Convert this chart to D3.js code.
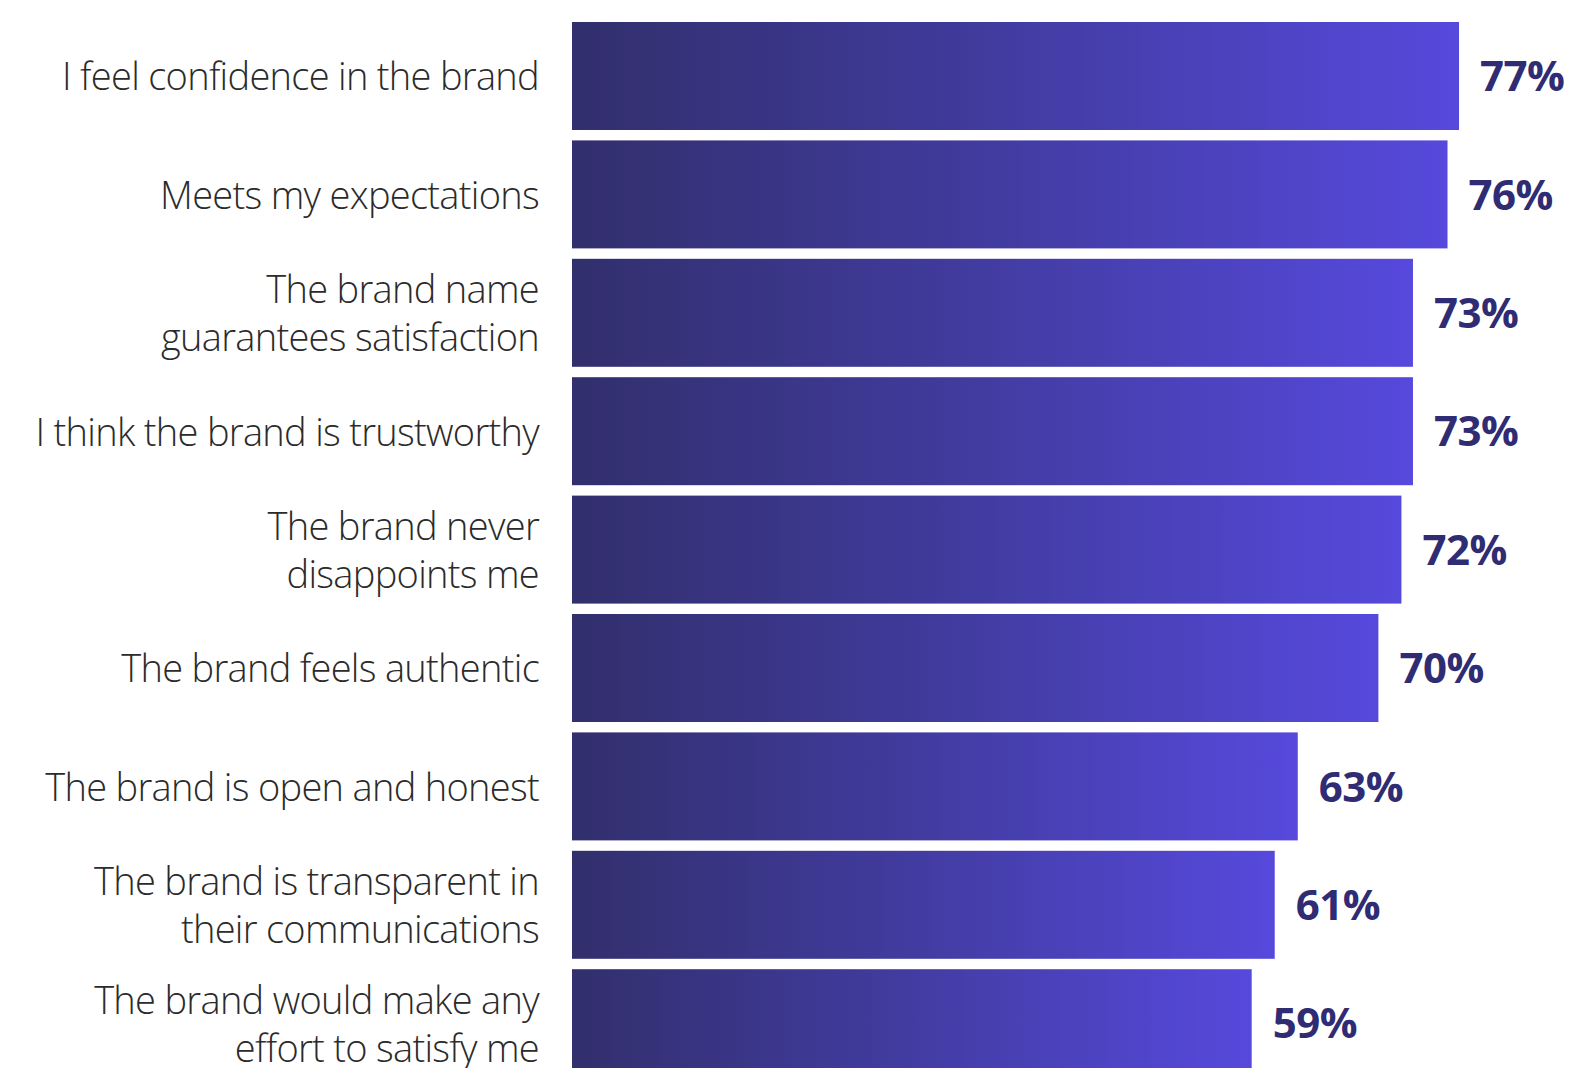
<!DOCTYPE html>
<html>
<head>
<meta charset="utf-8">
<script src="https://cdn.jsdelivr.net/npm/d3@7"></script>
<style>
  html, body { margin: 0; padding: 0; background: #ffffff; }
  svg { display: block; }
</style>
</head>
<body>
<svg id="chart" width="1573" height="1068"></svg>
<script>
// Brand perception statements, one bar each (share agreeing, %)
const categories = [
  ["I feel confidence in the brand"],
  ["Meets my expectations"],
  ["The brand name", "guarantees satisfaction"],
  ["I think the brand is trustworthy"],
  ["The brand never", "disappoints me"],
  ["The brand feels authentic"],
  ["The brand is open and honest"],
  ["The brand is transparent in", "their communications"],
  ["The brand would make any", "effort to satisfy me"]
];
const values = [77, 76, 73, 73, 72, 70, 63, 61, 59];
const valueLabels = ["77%", "76%", "73%", "73%", "72%", "70%", "63%", "61%", "59%"];

const svg = d3.select("#chart");
const barLeft = 572;
const plotTop = 22;
const step = 118.4;
const gap = 10.4;

const x = d3.scaleLinear().domain([0, 100]).range([barLeft, barLeft + 1152]);
const y = d3.scaleBand()
  .domain(d3.range(values.length))
  .range([plotTop, plotTop + step * values.length - gap])
  .paddingInner(gap / step)
  .paddingOuter(0)
  .align(0);

// Left-to-right gradient, stretched across each bar
const grad = svg.append("defs").append("linearGradient")
  .attr("id", "barGrad")
  .attr("x1", "0%").attr("x2", "100%").attr("y1", "0%").attr("y2", "0%");
grad.append("stop").attr("offset", "0%").attr("stop-color", "#322f6d");
grad.append("stop").attr("offset", "45%").attr("stop-color", "#403b9c");
grad.append("stop").attr("offset", "100%").attr("stop-color", "#5649dc");

const rows = svg.append("g").selectAll("g")
  .data(values)
  .join("g");

rows.append("rect")
  .attr("x", x(0))
  .attr("y", (d, i) => y(i))
  .attr("width", d => x(d) - x(0))
  .attr("height", y.bandwidth())
  .attr("fill", "url(#barGrad)");

rows.append("text")
  .attr("x", d => x(d) + 21)
  .attr("y", (d, i) => y(i) + y.bandwidth() / 2)
  .attr("dy", "0.36em")
  .attr("font-family", "'Open Sans', sans-serif")
  .attr("font-weight", 700)
  .attr("font-size", 42)
  .attr("letter-spacing", -0.5)
  .attr("fill", "#2f2c73")
  .text((d, i) => valueLabels[i]);

// Category labels, right-aligned against the bars
const labels = rows.append("text")
  .attr("text-anchor", "end")
  .attr("font-family", "'Open Sans', sans-serif")
  .attr("font-weight", 300)
  .attr("font-size", 38)
  .attr("letter-spacing", -0.7)
  .attr("fill", "#2b2b2b");

labels.each(function(d, i) {
  const lines = categories[i];
  const cy = y(i) + y.bandwidth() / 2;
  const lh = 48;
  const t = d3.select(this);
  lines.forEach((line, k) => {
    t.append("tspan")
      .attr("x", 539)
      .attr("y", cy + (k - (lines.length - 1) / 2) * lh)
      .attr("dy", "0.38em")
      .text(line);
  });
});
</script>
</body>
</html>
